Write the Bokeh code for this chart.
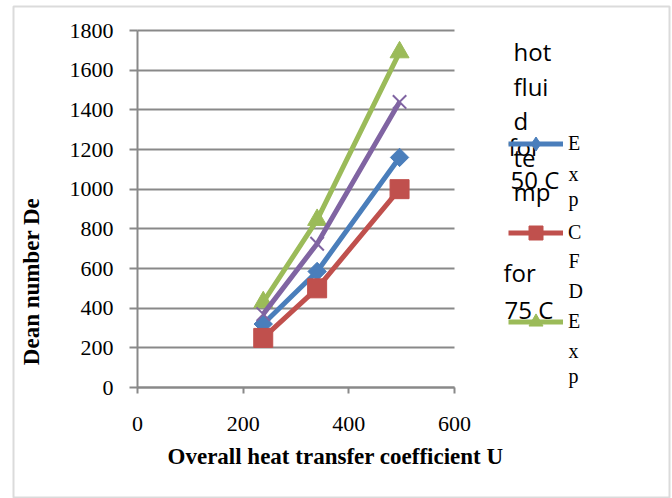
from bokeh.plotting import figure
from bokeh.models import (Label, BoxAnnotation, Legend, LegendItem, FixedTicker,
                          Range1d, ColumnDataSource, Grid)
from bokeh.embed import file_html
from bokeh.resources import INLINE
import numpy as np

# ---- data ----
u_values = [238, 340, 496]
de_exp_50 = [320, 585, 1160]   # blue diamonds
de_cfd_50 = [250, 500, 1000]   # red squares
de_exp_75 = [430, 845, 1690]   # green triangles
de_cfd_75 = [370, 725, 1440]   # purple crosses
x_ticks = [0, 200, 400, 600]
y_ticks = [0, 200, 400, 600, 800, 1000, 1200, 1400, 1600, 1800]

BLUE = "#4a7ebb"
RED = "#c0504d"
GREEN = "#9bbb59"
PURPLE = "#8064a2"
GRAY = "#898989"

W, H = 672, 498
# plot-area placement in canvas pixels (layout, not data)
PX0, PX1, PY_TOP, PY_BOT = 137, 454, 30, 387
XMAX, YMAX = 600, 1800
kx = (PX1 - PX0) / XMAX
ky = (PY_BOT - PY_TOP) / YMAX

p = figure(width=W, height=H, output_backend="svg", toolbar_location=None,
           x_range=Range1d(-PX0 / kx, (W - PX0) / kx),
           y_range=Range1d(-(H - PY_BOT) / ky, PY_BOT / ky),
           min_border=0)
p.outline_line_color = None
p.background_fill_color = "white"
p.border_fill_color = "white"

# axes, pinned at the data origin
p.xaxis.ticker = FixedTicker(ticks=x_ticks)
p.yaxis.ticker = FixedTicker(ticks=y_ticks)
p.xaxis.fixed_location = 0
p.yaxis.fixed_location = 0
p.xaxis.bounds = (0, XMAX)
p.yaxis.bounds = (0, YMAX)
for ax in (p.xaxis[0], p.yaxis[0]):
    ax.axis_line_color = GRAY
    ax.axis_line_width = 2
    ax.major_tick_line_color = GRAY
    ax.major_tick_line_width = 2
    ax.major_tick_in = 0
    ax.minor_tick_line_color = None
    ax.major_label_text_font = "Liberation Serif"
    ax.major_label_text_font_size = "22px"
    ax.major_label_text_color = "black"
p.xaxis.major_tick_out = 6
p.xaxis.major_label_standoff = 23
p.yaxis.major_tick_out = 8
p.yaxis.major_label_standoff = 16

p.xgrid.visible = False
if "cross_bounds" in Grid.properties():
    p.ygrid.cross_bounds = (0, XMAX)
    p.ygrid.bounds = (0, YMAX)
    p.ygrid.grid_line_color = GRAY
    p.ygrid.grid_line_width = 2
else:
    p.ygrid.visible = False
    p.segment(x0=[0] * len(y_ticks), x1=[XMAX] * len(y_ticks), y0=y_ticks, y1=y_ticks,
              line_color=GRAY, line_width=2)

# series
def src(ys):
    return ColumnDataSource(dict(x=u_values, y=ys))

l_blue = p.line("x", "y", source=src(de_exp_50), line_color=BLUE, line_width=5)
m_blue = p.scatter("x", "y", source=src(de_exp_50), marker="square", angle=np.pi / 4,
                   size=13, fill_color=BLUE, line_color=BLUE)
l_red = p.line("x", "y", source=src(de_cfd_50), line_color=RED, line_width=5)
m_red = p.scatter("x", "y", source=src(de_cfd_50), marker="square", size=19,
                  fill_color=RED, line_color=RED)
l_green = p.line("x", "y", source=src(de_exp_75), line_color=GREEN, line_width=5)
m_green = p.scatter("x", "y", source=src(de_exp_75), marker="triangle", size=19,
                    fill_color=GREEN, line_color=GREEN)
l_purple = p.line("x", "y", source=src(de_cfd_75), line_color=PURPLE, line_width=5)
m_purple = p.scatter("x", "y", source=src(de_cfd_75), marker="x", size=19,
                     line_color=PURPLE, line_width=2)

# legend-only diamond swatch for the blue series (the legend does not rotate markers)
m_blue_key = p.scatter(x=[-10000], y=[-10000], marker="diamond", size=14,
                       fill_color=BLUE, line_color=BLUE)

# legend (its labels are the first letters of the wrapped serif texts)
leg_glyph_h = 35
leg_pitch = 89
leg_h = 3 * leg_glyph_h + 2 * (leg_pitch - leg_glyph_h)
leg_top = 143 - leg_glyph_h / 2
legend = Legend(items=[LegendItem(label="E", renderers=[l_blue, m_blue_key]),
                       LegendItem(label="C", renderers=[l_red, m_red]),
                       LegendItem(label="E", renderers=[l_green, m_green])],
                location=(508, H - (leg_top + leg_h)),
                glyph_width=55, glyph_height=leg_glyph_h,
                spacing=leg_pitch - leg_glyph_h, padding=0, margin=0,
                label_standoff=5, label_text_font="Liberation Serif",
                label_text_font_size="20px", label_text_color="black",
                border_line_color=None, background_fill_alpha=0)
p.add_layout(legend, "center")

def lab(text, cx, cy, font="Open Sans", size="24px", bold=False, angle=0,
        align="left", baseline="alphabetic"):
    p.add_layout(Label(x=cx, y=H - cy, x_units="screen", y_units="screen",
                       text=text, text_font=font, text_font_size=size,
                       text_font_style="bold" if bold else "normal",
                       text_color="black", angle=angle, text_align=align,
                       text_baseline=baseline))

# legend title text (wrapped and overlapping as in the reference)
SANS_DY = -11
for t, x, y in [("hot", 513, 62), ("flui", 513, 97), ("d", 513, 131),
                ("for", 508, 157), ("te", 513, 168), ("50 C", 510, 190),
                ("mp", 513, 202), ("for", 503, 283), ("75 C", 504, 320)]:
    lab(t, x, y + SANS_DY)
SERIF_DY = -7
for t, y in [("x", 180), ("p", 205), ("F", 267), ("D", 297), ("x", 357), ("p", 382)]:
    lab(t, 568, y + SERIF_DY, font="Liberation Serif", size="20px")

# axis titles
lab("Overall heat transfer coefficient U", 335, 463 + SERIF_DY, font="Liberation Serif",
    size="23px", bold=True, align="center")
lab("Dean number De", 31, 281, font="Liberation Serif", size="23px", bold=True,
    angle=np.pi / 2, align="center", baseline="middle")

# outer chart border
p.add_layout(BoxAnnotation(left=13, right=669, top=H - 6, bottom=H - 497,
                           left_units="screen", right_units="screen",
                           top_units="screen", bottom_units="screen",
                           fill_alpha=0, line_color=GRAY, line_width=2))

open("out.html", "w").write(file_html(p, INLINE))
